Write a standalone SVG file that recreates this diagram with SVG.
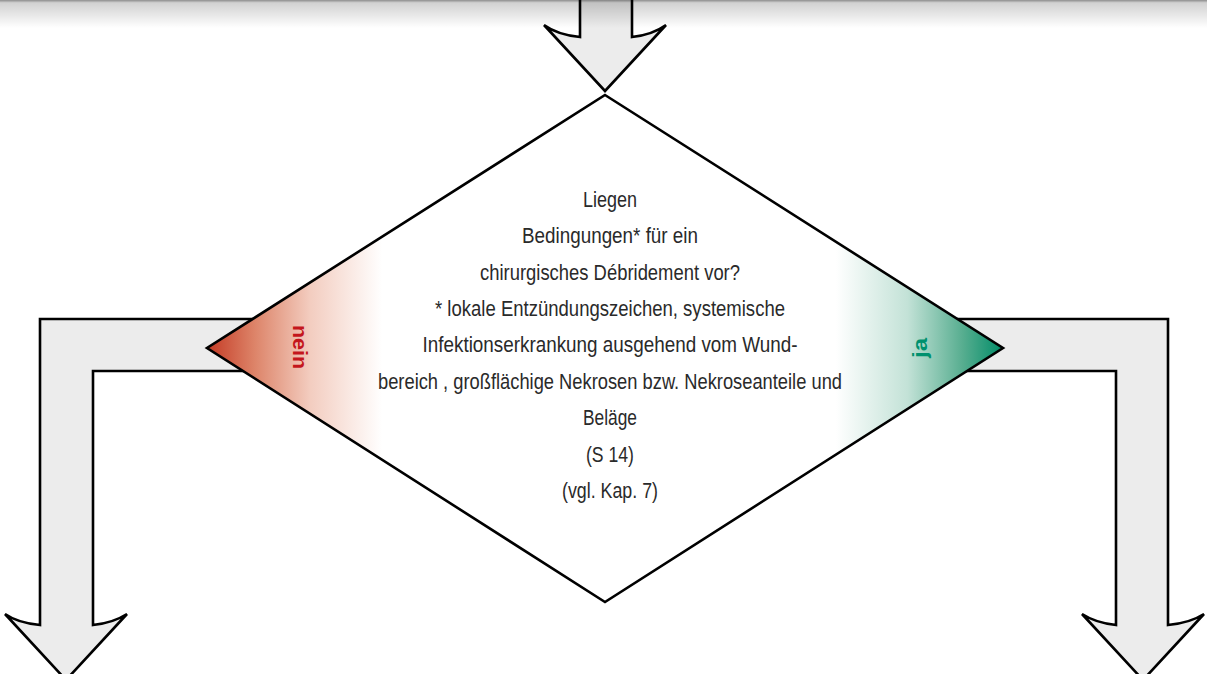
<svg xmlns="http://www.w3.org/2000/svg" width="1207" height="674" viewBox="0 0 1207 674">
<defs>
<linearGradient id="topband" x1="0" y1="0" x2="0" y2="1">
<stop offset="0" stop-color="#000" stop-opacity="0.45"/>
<stop offset="0.1" stop-color="#000" stop-opacity="0.18"/>
<stop offset="1" stop-color="#000" stop-opacity="0"/>
</linearGradient>
<linearGradient id="dfill" gradientUnits="userSpaceOnUse" x1="207" y1="0" x2="1003" y2="0">
<stop offset="0" stop-color="#c43a24"/>
<stop offset="0.06" stop-color="#dd8469"/>
<stop offset="0.13" stop-color="#f3cdc0"/>
<stop offset="0.22" stop-color="#ffffff"/>
<stop offset="0.79" stop-color="#ffffff"/>
<stop offset="0.88" stop-color="#c3e2d7"/>
<stop offset="0.95" stop-color="#56ad8f"/>
<stop offset="1" stop-color="#008c68"/>
</linearGradient>
<style>
.arrow{fill:#ececec;stroke:#000;stroke-width:2.6;stroke-linejoin:miter}
.diamond{fill:url(#dfill);stroke:#000;stroke-width:2.6}
.t{font-family:"Liberation Sans Narrow","Liberation Sans",Arial,sans-serif;font-size:22px;fill:#2a2a2a;text-anchor:middle}
.lbl{font-family:"Liberation Sans Narrow","Liberation Sans",Arial,sans-serif;font-size:21px;font-weight:bold;text-anchor:middle}
</style>
</defs>
<rect x="0" y="0" width="1207" height="674" fill="#fff"/>
<g id="connectors">
<path class="arrow" d="M580,-5 L580,37 Q558,35 544,25 L605,91 L666,25 Q652,35 632,37 L632,-5 Z"/>
<path class="arrow" d="M280,319 L40,319 L40,625 Q18,623 5,614 L66,680 L127,614 Q113,623 93,625 L93,371 L280,371"/>
<path class="arrow" d="M930,319 L1168,319 L1168,625 Q1190,623 1204,614 L1143,680 L1082,614 Q1096,623 1116,625 L1116,371 L930,371"/>
</g>
<g id="decision">
<polygon class="diamond" points="605,95 1003,348 605,602 207,348"/>
<text class="t"><tspan x="610" y="207" textLength="54" lengthAdjust="spacingAndGlyphs">Liegen</tspan></text>
<text class="t"><tspan x="610" y="243" textLength="176" lengthAdjust="spacingAndGlyphs">Bedingungen* für ein</tspan></text>
<text class="t"><tspan x="610" y="280" textLength="260" lengthAdjust="spacingAndGlyphs">chirurgisches Débridement vor?</tspan></text>
<text class="t"><tspan x="610" y="316" textLength="350" lengthAdjust="spacingAndGlyphs">* lokale Entzündungszeichen, systemische</tspan></text>
<text class="t"><tspan x="610" y="352" textLength="375" lengthAdjust="spacingAndGlyphs">Infektionserkrankung ausgehend vom Wund-</tspan></text>
<text class="t"><tspan x="610" y="389" textLength="464" lengthAdjust="spacingAndGlyphs">bereich , großflächige Nekrosen bzw. Nekroseanteile und</tspan></text>
<text class="t"><tspan x="610" y="425" textLength="54" lengthAdjust="spacingAndGlyphs">Beläge</tspan></text>
<text class="t"><tspan x="610" y="462" textLength="48" lengthAdjust="spacingAndGlyphs">(S 14)</tspan></text>
<text class="t"><tspan x="610" y="498" textLength="96" lengthAdjust="spacingAndGlyphs">(vgl. Kap. 7)</tspan></text>
</g>
<g id="label-nein">
<text class="lbl" fill="#c4161c" transform="translate(293,347) rotate(90)" textLength="44" lengthAdjust="spacingAndGlyphs">nein</text>
</g>
<g id="label-ja">
<text class="lbl" fill="#00916e" transform="translate(927,348) rotate(-90)" textLength="20" lengthAdjust="spacingAndGlyphs">ja</text>
</g>
<rect x="0" y="0" width="1207" height="28" fill="url(#topband)"/>
</svg>
